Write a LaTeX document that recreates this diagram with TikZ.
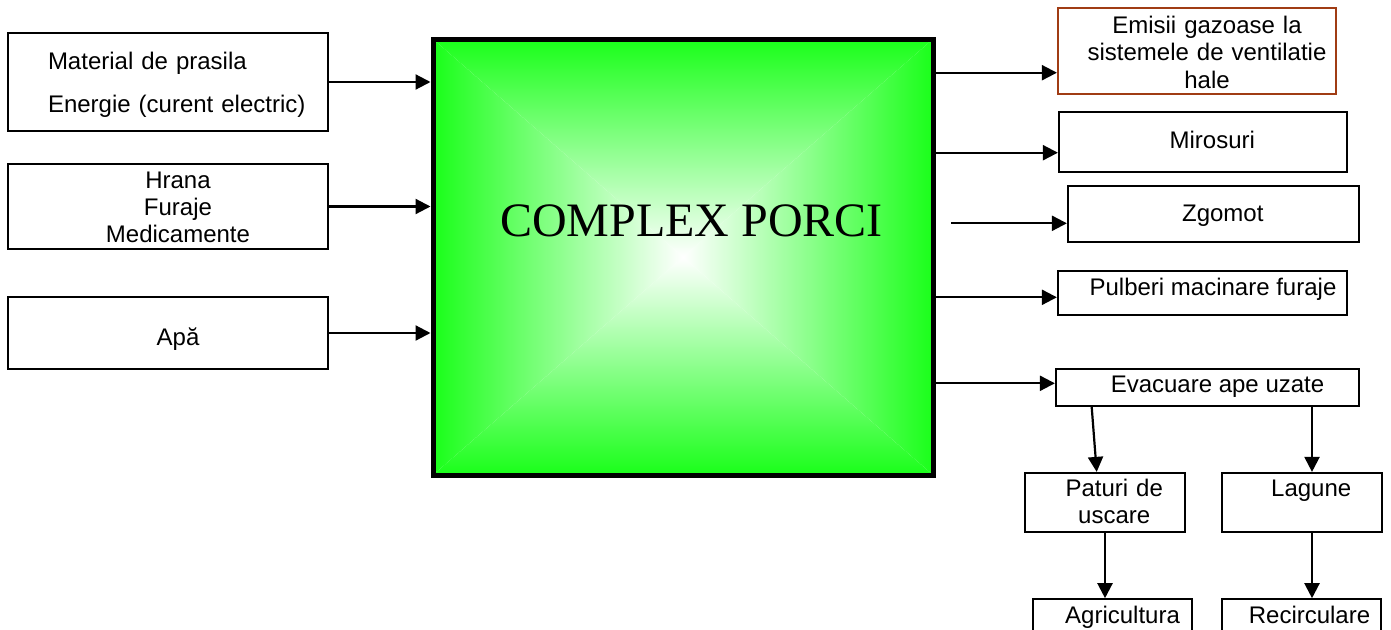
\documentclass[tikz,border=0pt]{standalone}
\usepackage{fontspec}
\setmainfont{Liberation Sans}
\newfontfamily\titlefont{Liberation Serif}
\usetikzlibrary{arrows.meta}
\definecolor{pgreen}{RGB}{26,255,26}
\definecolor{embrown}{RGB}{160,60,20}
\begin{document}
\begin{tikzpicture}[x=1pt,y=-1pt,
  box/.style={draw, line width=2.2pt, inner sep=0pt, font=\fontsize{24}{27}\selectfont},
  arr/.style={line width=2.2pt, -{Triangle[length=15pt,width=15pt]}}]
\useasboundingbox (0,0) rectangle (1391,629);
\clip (0,0) rectangle (1391,629);

% gradient fill of the main block
\shade[top color=pgreen, bottom color=white] (433,39) -- (933,39) -- (683,257) -- cycle;
\shade[top color=white, bottom color=pgreen] (433,475) -- (933,475) -- (683,257) -- cycle;
\shade[left color=pgreen, right color=white] (433,39) -- (433,475) -- (683,257) -- cycle;
\shade[left color=white, right color=pgreen] (933,39) -- (933,475) -- (683,257) -- cycle;
\node[draw, line width=5pt, minimum width=500pt, minimum height=436pt, inner sep=0pt] (main) at (683,257) {};
\node[anchor=base, font=\titlefont\fontsize{48}{50}\selectfont, inner sep=0pt] (title) at (691.5,236) {COMPLEX PORCI};

% inputs
\node[box, minimum width=320pt, minimum height=98pt, text width=280pt, align=left,
  font=\fontsize{24}{43.4}\selectfont, text height=0pt, text depth=25.4pt] (in1) at (168,82)
  {\hspace*{20pt}Material de prasila\\\hspace*{20pt}Energie (curent electric)};
\node[box, minimum width=320pt, minimum height=85pt, text width=300pt, align=center,
  text height=0pt, text depth=36.4pt] (in2) at (168,206.5)
  {\hspace*{20pt}Hrana\\\hspace*{20pt}Furaje\\\hspace*{20pt}Medicamente};
\node[box, minimum width=320pt, minimum height=72pt, text height=24pt, text depth=0pt] (in3) at (168,333)
  {\hspace*{20pt}Apă};

% outputs
\node[box, draw=embrown, minimum width=278pt, minimum height=86pt, text width=270pt, align=center,
  font=\fontsize{24}{27.4}\selectfont, text height=0pt, text depth=35pt] (em) at (1197,51)
  {\hspace*{20pt}Emisii gazoase la\\\hspace*{20pt}sistemele de ventilatie\\\hspace*{20pt}hale};
\node[box, minimum width=288pt, minimum height=60pt, text height=12.6pt, text depth=0pt] (mir) at (1203,142)
  {\hspace*{18.6pt}Mirosuri};
\node[box, minimum width=291pt, minimum height=55.7pt, text height=15.8pt, text depth=0pt] (zg) at (1213.5,213.8)
  {\hspace*{18.6pt}Zgomot};
\node[box, minimum width=289pt, minimum height=44pt, text height=4pt, text depth=0pt] (pul) at (1202.5,293)
  {\hspace*{21pt}Pulberi macinare furaje};
\node[box, minimum width=303pt, minimum height=37pt, text height=10.4pt, text depth=0pt] (ev) at (1207.5,387.5)
  {\hspace*{20pt}Evacuare ape uzate};
\node[box, minimum width=160pt, minimum height=59pt, text width=150pt, align=center,
  font=\fontsize{24}{26.7}\selectfont, text height=0pt, text depth=11.6pt] (pat) at (1105,502.5)
  {\hspace*{18.4pt}Paturi de\\\hspace*{18.4pt}uscare};
\node[box, minimum width=160pt, minimum height=59pt, text height=0pt, text depth=11.6pt] (lag) at (1302,502.5)
  {\hspace*{18.4pt}Lagune};
\node[box, minimum width=159pt, minimum height=59pt, text height=0pt, text depth=11pt] (agr) at (1112.2,628.8)
  {\hspace*{20.6pt}Agricultura};
\node[box, minimum width=159pt, minimum height=59pt, text height=0pt, text depth=11pt] (rec) at (1301.2,628.8)
  {\hspace*{16.6pt}Recirculare};

% input arrows
\draw[arr] (in1.east) -- (in1.east -| main.west);
\draw[arr] (in2.east) -- (in2.east -| main.west);
\draw[arr] (in3.east) -- (in3.east -| main.west);

% output arrows
\coordinate (a1) at ([yshift=-21.7pt]em.west);
\draw[arr] (main.east |- a1) -- (a1);
\coordinate (a2) at ([yshift=-10.7pt]mir.west);
\draw[arr] (main.east |- a2) -- (a2);
\coordinate (z0) at (951,223.3);
\draw[arr] (z0) -- (zg.west |- z0);
\coordinate (a4) at ([yshift=-4.3pt]pul.west);
\draw[arr] (main.east |- a4) -- (a4);
\coordinate (a5) at ([yshift=4.2pt]ev.west);
\draw[arr] (main.east |- a5) -- (a5);

% downstream arrows
\draw[arr] ([xshift=-115.8pt]ev.south) -- ([xshift=-8.3pt]pat.north);
\coordinate (d2) at ([xshift=104.5pt]ev.south);
\draw[arr] (d2) -- (d2 |- lag.north);
\draw[arr] (pat.south) -- (pat.south |- agr.north);
\coordinate (d4) at ([xshift=10pt]lag.south);
\draw[arr] (d4) -- (d4 |- rec.north);
\end{tikzpicture}
\end{document}
